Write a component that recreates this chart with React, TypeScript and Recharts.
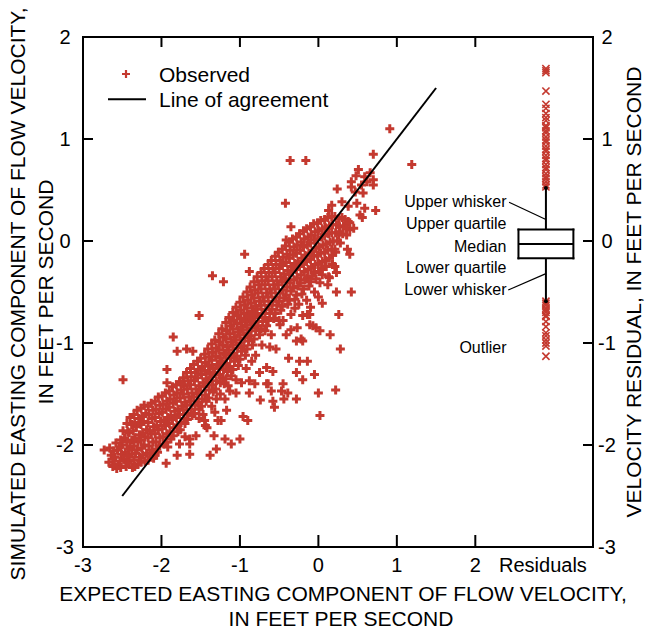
import React from "react";
import { ScatterChart, Scatter, XAxis, YAxis, ReferenceLine, ReferenceDot } from "recharts";

// Simulated vs expected easting velocity, with a residual box plot on the right.

const RED = "#c4392f";
const FONT = '"Liberation Sans", Arial, Helvetica, sans-serif';

type Pt = [number, number];

const X_DOMAIN: [number, number] = [-3, 3.5];
const Y_DOMAIN: [number, number] = [-3, 2];
const X_TICKS = [-3, -2, -1, 0, 1, 2];
const Y_TICKS = [-3, -2, -1, 0, 1, 2];
const RESIDUAL_X = 2.9;

// Dense band, lower-left part (x < -1.9)
const bandLow: Pt[] = [
  [-2.73, -2.05],
  [-2.66, -2.03], [-2.64, -2.10], [-2.67, -2.17], [-2.62, -2.21],
  [-2.58, -1.98], [-2.56, -2.05], [-2.59, -2.12], [-2.55, -2.19], [-2.57, -2.23],
  [-2.49, -1.86], [-2.47, -1.93], [-2.50, -2.00], [-2.46, -2.07], [-2.48, -2.14], [-2.45, -2.21],
  [-2.40, -1.73], [-2.38, -1.80], [-2.41, -1.88], [-2.37, -1.95], [-2.40, -2.02], [-2.38, -2.09], [-2.41, -2.16], [-2.37, -2.22],
  [-2.31, -1.66], [-2.29, -1.74], [-2.32, -1.82], [-2.28, -1.90], [-2.30, -1.97], [-2.31, -2.05], [-2.28, -2.12], [-2.30, -2.19],
  [-2.22, -1.61], [-2.20, -1.69], [-2.23, -1.77], [-2.19, -1.85], [-2.21, -1.92], [-2.22, -2.00], [-2.19, -2.08], [-2.21, -2.16],
  [-2.13, -1.59], [-2.11, -1.66], [-2.12, -1.74], [-2.10, -1.82], [-2.13, -1.89], [-2.11, -1.97], [-2.12, -2.05], [-2.10, -2.13],
  [-2.04, -1.53], [-2.02, -1.61], [-2.03, -1.69], [-2.01, -1.77], [-2.04, -1.85], [-2.02, -1.93], [-2.03, -2.01], [-2.05, -2.07],
  [-1.95, -1.49], [-1.93, -1.57], [-1.94, -1.65], [-1.92, -1.73], [-1.95, -1.81], [-1.93, -1.89], [-1.94, -1.97], [-1.92, -2.02],
];

// Dense band, middle part
const bandMid: Pt[] = [
  [-1.86, -1.43], [-1.84, -1.51], [-1.85, -1.59], [-1.83, -1.67], [-1.86, -1.75], [-1.84, -1.83], [-1.85, -1.91],
  [-1.77, -1.38], [-1.75, -1.46], [-1.76, -1.54], [-1.74, -1.62], [-1.77, -1.70], [-1.75, -1.78], [-1.76, -1.85],
  [-1.68, -1.29], [-1.66, -1.37], [-1.67, -1.45], [-1.65, -1.53], [-1.68, -1.61], [-1.66, -1.69], [-1.67, -1.75],
  [-1.59, -1.21], [-1.57, -1.29], [-1.58, -1.37], [-1.56, -1.45], [-1.59, -1.53], [-1.57, -1.61], [-1.58, -1.69],
  [-1.50, -1.15], [-1.48, -1.23], [-1.49, -1.31], [-1.47, -1.39], [-1.50, -1.47], [-1.48, -1.55], [-1.49, -1.62],
  [-1.41, -1.06], [-1.39, -1.14], [-1.40, -1.22], [-1.38, -1.30], [-1.41, -1.38], [-1.39, -1.46], [-1.40, -1.54],
  [-1.32, -0.97], [-1.30, -1.05], [-1.31, -1.13], [-1.29, -1.21], [-1.32, -1.29], [-1.30, -1.37], [-1.31, -1.45],
  [-1.23, -0.86], [-1.21, -0.94], [-1.22, -1.02], [-1.20, -1.10], [-1.23, -1.18], [-1.21, -1.26], [-1.22, -1.34], [-1.20, -1.40],
  [-1.14, -0.75], [-1.12, -0.83], [-1.13, -0.91], [-1.11, -0.99], [-1.14, -1.07], [-1.12, -1.15], [-1.13, -1.23], [-1.11, -1.32],
  [-1.05, -0.65], [-1.03, -0.73], [-1.04, -0.81], [-1.02, -0.89], [-1.05, -0.97], [-1.03, -1.05], [-1.04, -1.13], [-1.02, -1.22],
  [-0.96, -0.55], [-0.94, -0.63], [-0.95, -0.71], [-0.93, -0.79], [-0.96, -0.87], [-0.94, -0.95], [-0.95, -1.03], [-0.93, -1.12],
  [-0.87, -0.45], [-0.85, -0.53], [-0.86, -0.61], [-0.84, -0.69], [-0.87, -0.77], [-0.85, -0.85], [-0.86, -0.93], [-0.84, -1.02],
];

// Dense band, upper-right part
const bandHigh: Pt[] = [
  [-0.78, -0.35], [-0.76, -0.43], [-0.77, -0.51], [-0.75, -0.59], [-0.78, -0.67], [-0.76, -0.75], [-0.77, -0.83], [-0.75, -0.92],
  [-0.69, -0.27], [-0.67, -0.35], [-0.68, -0.43], [-0.66, -0.51], [-0.69, -0.59], [-0.67, -0.67], [-0.68, -0.75], [-0.66, -0.83],
  [-0.60, -0.19], [-0.58, -0.27], [-0.59, -0.35], [-0.57, -0.43], [-0.60, -0.51], [-0.58, -0.59], [-0.59, -0.67], [-0.57, -0.76],
  [-0.51, -0.11], [-0.49, -0.19], [-0.50, -0.27], [-0.48, -0.35], [-0.51, -0.43], [-0.49, -0.51], [-0.50, -0.59], [-0.48, -0.68],
  [-0.42, -0.05], [-0.40, -0.13], [-0.41, -0.21], [-0.39, -0.29], [-0.42, -0.37], [-0.40, -0.45], [-0.41, -0.53], [-0.39, -0.62],
  [-0.33, 0.02], [-0.31, -0.06], [-0.32, -0.14], [-0.30, -0.22], [-0.33, -0.30], [-0.31, -0.38], [-0.32, -0.46], [-0.30, -0.57],
  [-0.24, 0.07], [-0.22, -0.01], [-0.23, -0.09], [-0.21, -0.17], [-0.24, -0.25], [-0.22, -0.33], [-0.23, -0.41], [-0.21, -0.52],
  [-0.15, 0.12], [-0.13, 0.04], [-0.14, -0.04], [-0.12, -0.12], [-0.15, -0.20], [-0.13, -0.28], [-0.14, -0.36], [-0.12, -0.44],
  [-0.06, 0.17], [-0.04, 0.09], [-0.05, 0.01], [-0.03, -0.07], [-0.06, -0.15], [-0.04, -0.23], [-0.05, -0.31], [-0.03, -0.37],
  [0.03, 0.20], [0.05, 0.12], [0.04, 0.04], [0.06, -0.04], [0.03, -0.12], [0.05, -0.20], [0.04, -0.28],
  [0.12, 0.23], [0.14, 0.15], [0.13, 0.07], [0.15, -0.01], [0.12, -0.09], [0.14, -0.17],
  [0.21, 0.24], [0.23, 0.16], [0.22, 0.08], [0.24, 0.00], [0.21, -0.08],
  [0.30, 0.23], [0.32, 0.15], [0.31, 0.07],
  [0.38, 0.19], [0.40, 0.11],
];

// Dense band, points sitting between the columns above
const bandFill: Pt[] = [
  [-2.61, -2.06], [-2.62, -2.14], [-2.60, -2.20],
  [-2.52, -1.95], [-2.53, -2.02], [-2.51, -2.09], [-2.53, -2.16], [-2.52, -2.22],
  [-2.44, -1.79], [-2.43, -1.87], [-2.44, -1.97], [-2.42, -2.04], [-2.44, -2.11], [-2.43, -2.18],
  [-2.35, -1.70], [-2.34, -1.78], [-2.36, -1.86], [-2.34, -1.93], [-2.35, -2.01], [-2.33, -2.08], [-2.35, -2.15], [-2.34, -2.21],
  [-2.26, -1.64], [-2.25, -1.72], [-2.26, -1.80], [-2.24, -1.88], [-2.26, -1.95], [-2.25, -2.03], [-2.24, -2.10], [-2.26, -2.17],
  [-2.17, -1.62], [-2.16, -1.70], [-2.17, -1.78], [-2.15, -1.86], [-2.17, -1.93], [-2.16, -2.01], [-2.15, -2.09], [-2.17, -2.15],
  [-2.08, -1.57], [-2.07, -1.65], [-2.08, -1.73], [-2.06, -1.81], [-2.08, -1.89], [-2.07, -1.97], [-2.06, -2.04], [-2.08, -2.10],
  [-1.99, -1.52], [-1.98, -1.60], [-1.99, -1.68], [-1.97, -1.76], [-1.99, -1.84], [-1.98, -1.92], [-1.97, -1.99],
  [-1.90, -1.47], [-1.89, -1.55], [-1.90, -1.63], [-1.88, -1.71], [-1.90, -1.79], [-1.89, -1.87], [-1.88, -1.94],
  [-1.81, -1.41], [-1.80, -1.49], [-1.81, -1.57], [-1.79, -1.65], [-1.81, -1.73], [-1.80, -1.81], [-1.79, -1.87],
  [-1.72, -1.34], [-1.71, -1.42], [-1.72, -1.50], [-1.70, -1.58], [-1.72, -1.66], [-1.71, -1.74], [-1.70, -1.79],
  [-1.63, -1.25], [-1.62, -1.33], [-1.63, -1.41], [-1.61, -1.49], [-1.63, -1.57], [-1.62, -1.65], [-1.61, -1.71],
  [-1.54, -1.18], [-1.53, -1.26], [-1.54, -1.34], [-1.52, -1.42], [-1.54, -1.50], [-1.53, -1.58], [-1.52, -1.65],
  [-1.45, -1.11], [-1.44, -1.19], [-1.45, -1.27], [-1.43, -1.35], [-1.45, -1.43], [-1.44, -1.51], [-1.43, -1.57],
  [-1.36, -1.01], [-1.35, -1.09], [-1.36, -1.17], [-1.34, -1.25], [-1.36, -1.33], [-1.35, -1.41], [-1.34, -1.48],
  [-1.27, -0.91], [-1.26, -0.99], [-1.27, -1.07], [-1.25, -1.15], [-1.27, -1.23], [-1.26, -1.31], [-1.25, -1.39],
  [-1.18, -0.80], [-1.17, -0.88], [-1.18, -0.96], [-1.16, -1.04], [-1.18, -1.12], [-1.17, -1.20], [-1.16, -1.28], [-1.18, -1.35],
  [-1.09, -0.70], [-1.08, -0.78], [-1.09, -0.86], [-1.07, -0.94], [-1.09, -1.02], [-1.08, -1.10], [-1.07, -1.18], [-1.09, -1.26],
  [-1.00, -0.60], [-0.99, -0.68], [-1.00, -0.76], [-0.98, -0.84], [-1.00, -0.92], [-0.99, -1.00], [-0.98, -1.08], [-1.00, -1.16],
  [-0.91, -0.50], [-0.90, -0.58], [-0.91, -0.66], [-0.89, -0.74], [-0.91, -0.82], [-0.90, -0.90], [-0.89, -0.98], [-0.91, -1.06],
  [-0.82, -0.40], [-0.81, -0.48], [-0.82, -0.56], [-0.80, -0.64], [-0.82, -0.72], [-0.81, -0.80], [-0.80, -0.88], [-0.82, -0.96],
  [-0.73, -0.31], [-0.72, -0.39], [-0.73, -0.47], [-0.71, -0.55], [-0.73, -0.63], [-0.72, -0.71], [-0.71, -0.79], [-0.73, -0.86],
  [-0.64, -0.23], [-0.63, -0.31], [-0.64, -0.39], [-0.62, -0.47], [-0.64, -0.55], [-0.63, -0.63], [-0.62, -0.71], [-0.64, -0.78],
  [-0.55, -0.15], [-0.54, -0.23], [-0.55, -0.31], [-0.53, -0.39], [-0.55, -0.47], [-0.54, -0.55], [-0.53, -0.63], [-0.55, -0.71],
  [-0.46, -0.08], [-0.45, -0.16], [-0.46, -0.24], [-0.44, -0.32], [-0.46, -0.40], [-0.45, -0.48], [-0.44, -0.56], [-0.46, -0.64],
  [-0.37, -0.01], [-0.36, -0.09], [-0.37, -0.17], [-0.35, -0.25], [-0.37, -0.33], [-0.36, -0.41], [-0.35, -0.49], [-0.37, -0.58],
  [-0.28, 0.04], [-0.27, -0.04], [-0.28, -0.12], [-0.26, -0.20], [-0.28, -0.28], [-0.27, -0.36], [-0.26, -0.44], [-0.28, -0.53],
  [-0.19, 0.10], [-0.18, 0.02], [-0.19, -0.06], [-0.17, -0.14], [-0.19, -0.22], [-0.18, -0.30], [-0.17, -0.38], [-0.19, -0.47],
  [-0.10, 0.14], [-0.09, 0.06], [-0.10, -0.02], [-0.08, -0.10], [-0.10, -0.18], [-0.09, -0.26], [-0.08, -0.34], [-0.10, -0.40],
  [-0.01, 0.18], [0.00, 0.10], [-0.01, 0.02], [0.01, -0.06], [-0.01, -0.14], [0.00, -0.22], [0.01, -0.30],
  [0.08, 0.21], [0.09, 0.13], [0.08, 0.05], [0.10, -0.03], [0.08, -0.11], [0.09, -0.19], [0.10, -0.25],
  [0.17, 0.24], [0.18, 0.16], [0.17, 0.08], [0.19, 0.00], [0.17, -0.08], [0.18, -0.14],
  [0.26, 0.22], [0.27, 0.14], [0.26, 0.06], [0.28, -0.02],
  [0.34, 0.21], [0.35, 0.13], [0.36, 0.06],
];

// Loose points above/left of the band
const scatterAbove: Pt[] = [
  [-2.49, -1.36], [-1.93, -1.26], [-1.93, -1.39], [-1.74, -1.40], [-1.85, -0.94], [-1.80, -1.08],
  [-1.68, -1.06], [-1.60, -1.08], [-1.52, -0.73], [-1.35, -0.34], [-1.21, -0.40], [-0.88, -0.30],
  [-0.94, -0.13], [-0.42, 0.37], [-0.35, 0.14], [-0.41, 0.01], [-0.36, 0.79], [-0.16, 0.79],
];

// Loose points to the upper right
const scatterUpper: Pt[] = [
  [0.91, 1.10], [0.70, 0.85], [1.19, 0.75], [0.51, 0.70], [0.66, 0.67], [0.59, 0.63], [0.70, 0.60],
  [0.62, 0.58], [0.55, 0.55], [0.70, 0.55], [0.47, 0.48], [0.57, 0.47], [0.42, 0.58], [0.42, 0.53],
  [0.24, 0.51], [0.48, 0.64], [0.30, 0.385], [0.38, 0.34], [0.49, 0.37], [0.59, 0.32], [0.53, 0.255],
  [0.56, 0.23], [0.17, 0.35], [0.13, 0.30], [0.45, 0.125], [0.73, 0.30], [0.40, 0.18], [0.27, 0.09],
  [0.37, -0.08], [0.40, -0.13], [0.22, -0.11], [0.23, -0.31], [0.42, -0.50], [0.23, -0.50],
  [0.02, -0.41], [0.14, -0.36], [0.12, -0.43], [0.18, -0.23], [0.05, -0.33], [0.13, -0.35], [0.21, -0.25],
];

// Loose points below/right of the band
const scatterBelow: Pt[] = [
  [-1.94, -2.18], [-1.80, -2.10], [-1.77, -1.99], [-1.64, -1.94], [-1.64, -1.99], [-1.64, -2.09],
  [-1.56, -1.91], [-1.45, -1.76], [-1.44, -1.81], [-1.42, -1.83], [-1.38, -2.10], [-1.33, -1.91],
  [-1.30, -2.04], [-1.32, -1.68], [-1.28, -1.76], [-1.24, -1.76], [-1.30, -1.55], [-1.19, -1.55],
  [-1.17, -1.66], [-1.19, -1.94], [-1.11, -1.99], [-1.00, -1.94], [-0.96, -1.72], [-0.90, -1.76],
  [-1.13, -1.47], [-1.05, -1.49], [-1.05, -1.36], [-0.98, -1.39], [-0.88, -1.37], [-0.88, -1.49],
  [-0.81, -1.40], [-0.75, -1.29], [-0.58, -1.28], [-0.66, -1.40], [-0.74, -1.56], [-0.58, -1.57],
  [-0.56, -1.63], [-0.60, -1.47], [-0.45, -1.40], [-0.47, -1.47], [-0.39, -1.49], [-0.44, -1.55],
  [-0.28, -1.55], [-0.28, -1.29], [-0.20, -1.36], [-0.05, -1.31], [-0.14, -1.18], [0.00, -1.49],
  [0.02, -1.71], [0.22, -1.46],
  [0.05, -0.61], [0.26, -0.72], [-0.14, -0.72], [-0.20, -0.73], [-0.03, -0.85], [0.02, -0.88],
  [0.15, -0.92], [-0.27, -0.85], [-0.35, -0.87], [-0.22, -0.96], [-0.28, -0.98], [0.28, -1.06],
  [-0.24, -1.18], [-0.38, -1.15], [-0.64, -1.40], [-0.66, -1.24], [-0.54, -1.06], [-0.62, -1.04],
  [-0.41, -0.92], [-0.68, -0.88], [-0.49, -0.82], [-0.50, -0.78], [-0.11, -0.72], [-0.11, -0.82],
  [-0.07, -0.83], [-0.20, -0.98],
  [-1.70, -1.92], [-1.52, -1.74], [-1.47, -1.70], [-1.36, -1.62], [-1.25, -1.50], [-1.15, -1.42],
  [-0.92, -1.25], [-0.80, -1.12], [-0.72, -1.02], [-0.85, -1.18], [-0.60, -0.92], [-0.45, -0.78],
  [-0.35, -0.72], [-0.30, -0.66], [-0.25, -0.62], [-0.15, -0.58], [-0.05, -0.50], [0.00, -0.55], [-0.10, -0.65],
];

// 1:1 line endpoints
const agreement: Pt[] = [[-2.5, -2.5], [1.5, 1.5]];

// Residual box plot statistics
const lowerQuartile = -0.17;
const median = -0.03;
const upperQuartile = 0.112;
const lowerWhisker = -0.59;
const upperWhisker = 0.52;
const boxLeft = 2.55;
const boxRight = 3.25;

const residualHigh = [
  0.53, 0.55, 0.58, 0.61, 0.63, 0.66, 0.70, 0.72, 0.75, 0.79, 0.81, 0.84, 0.88, 0.90, 0.93,
  0.97, 0.99, 1.02, 1.06, 1.08, 1.11, 1.13, 1.18, 1.21, 1.25, 1.30, 1.34, 1.47, 1.65, 1.67, 1.69,
];
const residualLow = [
  -0.59, -0.61, -0.63, -0.66, -0.68, -0.70, -0.73, -0.74, -0.79, -0.84, -0.90, -0.93, -0.97, -1.00, -1.03, -1.13,
];

const boxLabels = [
  { text: "Upper whisker", cy: 201.7 },
  { text: "Upper quartile", cy: 223.3 },
  { text: "Median", cy: 246 },
  { text: "Lower quartile", cy: 267.7 },
  { text: "Lower whisker", cy: 289.3 },
  { text: "Outlier", cy: 347.7 },
];

const toXY = (pts: Pt[]) => pts.map(([x, y]) => ({ x, y }));
const observed = toXY([...bandLow, ...bandMid, ...bandHigh, ...bandFill, ...scatterAbove, ...scatterUpper, ...scatterBelow]);
const outliers = [...residualHigh, ...residualLow].map((y) => ({ x: RESIDUAL_X, y }));

const TICK = 10;

function PlusMark(props: any) {
  const { cx, cy } = props;
  if (cx == null || cy == null) return <g />;
  return <path d={`M${cx - 4.5},${cy}H${cx + 4.5}M${cx},${cy - 4.5}V${cy + 4.5}`} stroke={RED} strokeWidth={3} fill="none" />;
}

function CrossMark(props: any) {
  const { cx, cy } = props;
  if (cx == null || cy == null) return <g />;
  const r = 3.6;
  return (
    <path
      d={`M${cx - r},${cy - r}L${cx + r},${cy + r}M${cx - r},${cy + r}L${cx + r},${cy - r}`}
      stroke={RED}
      strokeWidth={1.6}
      fill="none"
    />
  );
}

const NoMark = () => <g />;

function BottomTick({ x, y, payload }: any) {
  const v = payload.value;
  const isResidual = v === RESIDUAL_X;
  return (
    <g>
      {!isResidual && v > X_DOMAIN[0] && <line x1={x} x2={x} y1={y} y2={y - 12} stroke="#000" strokeWidth={2} />}
      <text x={isResidual ? x - 3 : x} y={y + 25} textAnchor="middle" fontSize={20} fontFamily={FONT} fill="#000">
        {isResidual ? "Residuals" : String(v)}
      </text>
    </g>
  );
}

function TopTick({ x, y }: any) {
  return <line x1={x} x2={x} y1={y} y2={y + TICK} stroke="#000" strokeWidth={2} />;
}

function LeftTick({ x, y, payload }: any) {
  const v = payload.value;
  return (
    <g>
      {v > Y_DOMAIN[0] && v < Y_DOMAIN[1] && <line x1={x} x2={x + TICK} y1={y} y2={y} stroke="#000" strokeWidth={2} />}
      <text x={65} y={y + 7} textAnchor="middle" fontSize={20} fontFamily={FONT} fill="#000">
        {String(v)}
      </text>
    </g>
  );
}

function RightTick({ x, y, payload }: any) {
  const v = payload.value;
  return (
    <g>
      {v > Y_DOMAIN[0] && v < Y_DOMAIN[1] && <line x1={x} x2={x - TICK} y1={y} y2={y} stroke="#000" strokeWidth={2} />}
      <text x={607} y={y + 7} textAnchor="middle" fontSize={20} fontFamily={FONT} fill="#000">
        {String(v)}
      </text>
    </g>
  );
}

const AXIS_LINE = { stroke: "#000", strokeWidth: 2, strokeLinecap: "square" as const };
const axisIds = { xAxisId: "b", yAxisId: "l" };

export default function App() {
  return (
    <div style={{ position: "absolute", left: 0, top: 0, width: 645, height: 631, background: "#fff", fontFamily: FONT }}>
      <ScatterChart width={645} height={631} margin={{ top: 36, right: 0, bottom: 0, left: 0 }}>
        <XAxis
          xAxisId="b"
          type="number"
          dataKey="x"
          domain={X_DOMAIN}
          ticks={[...X_TICKS, RESIDUAL_X]}
          interval={0}
          height={84}
          axisLine={AXIS_LINE}
          tickLine={false}
          tickSize={0}
          tickMargin={0}
          tick={<BottomTick />}
        />
        <XAxis
          xAxisId="t"
          orientation="top"
          type="number"
          dataKey="x"
          domain={X_DOMAIN}
          ticks={[-2, -1, 0, 1, 2]}
          interval={0}
          height={1}
          axisLine={AXIS_LINE}
          tickLine={false}
          tickSize={0}
          tickMargin={0}
          tick={<TopTick />}
        />
        <YAxis
          yAxisId="l"
          type="number"
          dataKey="y"
          domain={Y_DOMAIN}
          ticks={Y_TICKS}
          interval={0}
          width={83}
          axisLine={AXIS_LINE}
          tickLine={false}
          tickSize={0}
          tickMargin={0}
          tick={<LeftTick />}
        />
        <YAxis
          yAxisId="r"
          orientation="right"
          type="number"
          dataKey="y"
          domain={Y_DOMAIN}
          ticks={Y_TICKS}
          interval={0}
          width={52}
          axisLine={AXIS_LINE}
          tickLine={false}
          tickSize={0}
          tickMargin={0}
          tick={<RightTick />}
        />

        <Scatter {...axisIds} data={observed} shape={<PlusMark />} isAnimationActive={false} />
        <Scatter
          {...axisIds}
          data={toXY(agreement)}
          line={{ stroke: "#000", strokeWidth: 2 }}
          lineType="joint"
          shape={<NoMark />}
          isAnimationActive={false}
        />
        <Scatter {...axisIds} data={outliers} shape={<CrossMark />} isAnimationActive={false} />
        {/* ties the top and right axes to the same scales */}
        <Scatter xAxisId="t" yAxisId="r" data={toXY(agreement)} shape={<NoMark />} isAnimationActive={false} />

        {/* whiskers */}
        <ReferenceLine {...axisIds} segment={[{ x: RESIDUAL_X, y: upperQuartile }, { x: RESIDUAL_X, y: upperWhisker }]} stroke="#000" strokeWidth={2} />
        <ReferenceLine {...axisIds} segment={[{ x: RESIDUAL_X, y: lowerQuartile }, { x: RESIDUAL_X, y: lowerWhisker }]} stroke="#000" strokeWidth={2} />
        <ReferenceDot {...axisIds} x={RESIDUAL_X} y={upperWhisker} r={2} fill="#000" stroke="none" />
        <ReferenceDot {...axisIds} x={RESIDUAL_X} y={lowerWhisker} r={2} fill="#000" stroke="none" />

        {/* box and median */}
        <ReferenceLine {...axisIds} segment={[{ x: boxLeft, y: upperQuartile }, { x: boxRight, y: upperQuartile }]} stroke="#000" strokeWidth={2} strokeLinecap="square" />
        <ReferenceLine {...axisIds} segment={[{ x: boxLeft, y: lowerQuartile }, { x: boxRight, y: lowerQuartile }]} stroke="#000" strokeWidth={2} strokeLinecap="square" />
        <ReferenceLine {...axisIds} segment={[{ x: boxLeft, y: lowerQuartile }, { x: boxLeft, y: upperQuartile }]} stroke="#000" strokeWidth={2} strokeLinecap="square" />
        <ReferenceLine {...axisIds} segment={[{ x: boxRight, y: lowerQuartile }, { x: boxRight, y: upperQuartile }]} stroke="#000" strokeWidth={2} strokeLinecap="square" />
        <ReferenceLine {...axisIds} segment={[{ x: boxLeft, y: median }, { x: boxRight, y: median }]} stroke="#000" strokeWidth={2} />

        {/* leaders from the whisker labels */}
        <ReferenceLine {...axisIds} segment={[{ x: 2.43, y: 0.38 }, { x: RESIDUAL_X, y: 0.21 }]} stroke="#000" strokeWidth={1.2} />
        <ReferenceLine {...axisIds} segment={[{ x: 2.42, y: -0.48 }, { x: RESIDUAL_X, y: -0.32 }]} stroke="#000" strokeWidth={1.2} />
      </ScatterChart>

      <svg width={645} height={631} style={{ position: "absolute", left: 0, top: 0, pointerEvents: "none" }} fontFamily={FONT} fill="#000">
        {/* legend */}
        <path d="M122,74H130M126,70V78" stroke={RED} strokeWidth={2.2} />
        <text x={159} y={81.5} fontSize={21}>Observed</text>
        <line x1={108} x2={146} y1={99.3} y2={99.3} stroke="#000" strokeWidth={2} />
        <text x={159} y={106.8} fontSize={21}>Line of agreement</text>

        {boxLabels.map((l) => (
          <text key={l.text} x={506.5} y={l.cy + 5.7} fontSize={16} textAnchor="end">
            {l.text}
          </text>
        ))}

        {/* axis titles */}
        <text x={343} y={600.5} fontSize={21} textAnchor="middle">EXPECTED EASTING COMPONENT OF FLOW VELOCITY,</text>
        <text x={341} y={625.5} fontSize={21} textAnchor="middle">IN FEET PER SECOND</text>
        <text transform="translate(25,294) rotate(-90)" fontSize={21} textAnchor="middle">
          SIMULATED EASTING COMPONENT OF FLOW VELOCITY,
        </text>
        <text transform="translate(52.5,292) rotate(-90)" fontSize={21} textAnchor="middle">
          IN FEET PER SECOND
        </text>
        <text transform="translate(641,292) rotate(-90)" fontSize={21} textAnchor="middle">
          VELOCITY RESIDUAL, IN FEET PER SECOND
        </text>
      </svg>
    </div>
  );
}
